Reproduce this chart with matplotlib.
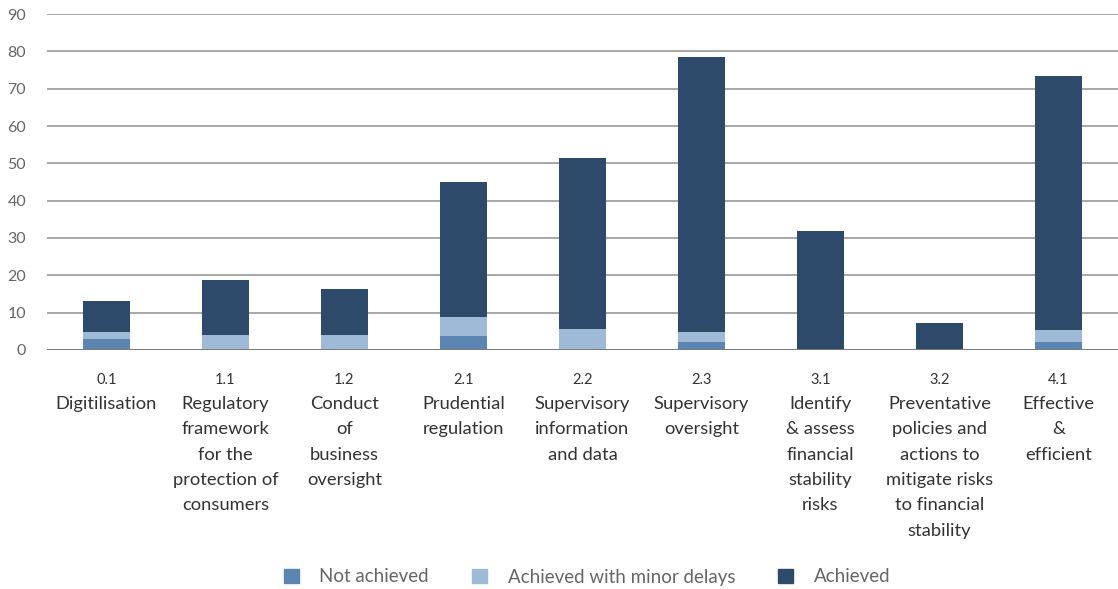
import matplotlib
matplotlib.use("Agg")
import matplotlib.pyplot as plt
from matplotlib.patches import Patch
import numpy as np

plt.rcParams['font.family'] = ['Lato', 'DejaVu Sans']

codes = ['0.1', '1.1', '1.2', '2.1', '2.2', '2.3', '3.1', '3.2', '4.1']
names = ['Digitilisation',
         'Regulatory\nframework\nfor the\nprotection of\nconsumers',
         'Conduct\nof\nbusiness\noversight',
         'Prudential\nregulation',
         'Supervisory\ninformation\nand data',
         'Supervisory\noversight',
         'Identify\n& assess\nfinancial\nstability\nrisks',
         'Preventative\npolicies and\nactions to\nmitigate risks\nto financial\nstability',
         'Effective\n&\nefficient']

not_achieved = [2.8, 0, 0, 3.6, 0, 2.0, 0, 0, 2.0]
minor_delays = [1.9, 3.9, 3.9, 5.1, 5.5, 2.7, 0, 0, 3.2]
achieved = [8.3, 14.8, 12.4, 36.3, 46.0, 73.9, 31.9, 7.1, 68.3]

c_na = '#5b86b1'
c_minor = '#9fbad6'
c_ach = '#2d4a6a'

fig = plt.figure(figsize=(11.18, 5.89), dpi=100)
ax = fig.add_axes([0.042, 0.406, 0.958, 0.570])

x = np.arange(len(codes))
w = 0.4
na = np.array(not_achieved)
mi = np.array(minor_delays)
ac = np.array(achieved)
ax.bar(x, na, w, color=c_na, zorder=2)
ax.bar(x, mi, w, bottom=na, color=c_minor, zorder=2)
ax.bar(x, ac, w, bottom=na + mi, color=c_ach, zorder=2)

ax.set_ylim(0, 90)
ax.set_xlim(-0.5, len(codes) - 0.5)
ax.set_yticks(range(0, 91, 10))
ax.yaxis.grid(True, color='#9a9a9a', linewidth=1.2, zorder=1)
ax.axhline(0, color='#7a7a7a', linewidth=1.4, zorder=3)
ax.set_axisbelow(True)
for s in ax.spines.values():
    s.set_visible(False)
ax.tick_params(axis='y', length=0, pad=15, labelsize=11.5, labelcolor='#666666')
ax.set_xticks([])

tr = ax.get_xaxis_transform()
for i, (c, n) in enumerate(zip(codes, names)):
    ax.text(i, -0.09, c, transform=tr, ha='center', va='center',
            fontsize=10.5, color='#333333')
    ax.text(i, -0.137, n, transform=tr, ha='center', va='top',
            fontsize=13.2, color='#333333', linespacing=1.72,
            multialignment='center')

handles = [Patch(color=c_na, label='Not achieved'),
           Patch(color=c_minor, label='Achieved with minor delays'),
           Patch(color=c_ach, label='Achieved')]
leg = fig.legend(handles=handles, loc='center', bbox_to_anchor=(0.525, 1 - 577 / 589),
                 ncol=3, frameon=False, fontsize=13.5, handlelength=0.8, handleheight=0.8,
                 columnspacing=2.3, handletextpad=1.1)
for t in leg.get_texts():
    t.set_color('#666666')

fig.savefig('out.png', dpi=100)
